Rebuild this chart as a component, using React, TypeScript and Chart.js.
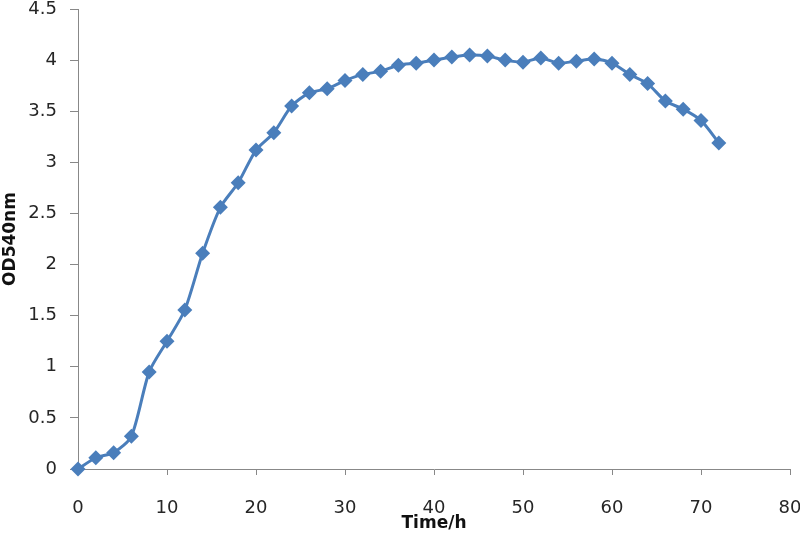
import React, { useEffect, useRef } from "react";
import { Chart, registerables } from "chart.js";

Chart.register(...registerables);

const timeHours = [0, 2, 4, 6, 8, 10, 12, 14, 16, 18, 20, 22, 24, 26, 28, 30, 32, 34, 36, 38, 40, 42, 44, 46, 48, 50, 52, 54, 56, 58, 60, 62, 64, 66, 68, 70, 72];
const od540 = [0, 0.11, 0.16, 0.32, 0.95, 1.25, 1.555, 2.11, 2.56, 2.8, 3.12, 3.29, 3.55, 3.68, 3.72, 3.8, 3.86, 3.89, 3.95, 3.97, 4.0, 4.03, 4.05, 4.04, 4.0, 3.98, 4.02, 3.97, 3.99, 4.01, 3.97, 3.86, 3.77, 3.6, 3.52, 3.41, 3.19];
const xTitle = "Time/h";
const yTitle = "OD540nm";

export default function App() {
  const ref = useRef<HTMLCanvasElement>(null);
  useEffect(() => {
    if (!ref.current) return;
    const data = timeHours.map((t, i) => ({ x: t, y: od540[i] }));
    const noPad = (s: any) => {
      s.paddingLeft = 0;
      s.paddingRight = 0;
      s.paddingTop = 0;
      s.paddingBottom = 0;
    };
    const chart = new Chart(ref.current, {
      type: "line",
      data: {
        datasets: [
          {
            data,
            borderColor: "#4A7EBB",
            backgroundColor: "#4A7EBB",
            borderWidth: 3,
            pointStyle: "rectRot",
            pointRadius: 7.5,
            pointHoverRadius: 7.5,
            pointBorderWidth: 0,
            tension: 0.25,
            fill: false,
            clip: false,
          } as any,
        ],
      },
      options: {
        animation: false,
        responsive: true,
        maintainAspectRatio: false,
        layout: { padding: { top: 9, right: 10, left: 0, bottom: 0 } },
        plugins: { legend: { display: false }, tooltip: { enabled: false } },
        scales: {
          x: {
            type: "linear",
            min: 0,
            max: 80,
            ticks: { stepSize: 10, color: "#262626", padding: 23, font: { family: "DejaVu Sans", size: 18 } },
            grid: { display: true, drawOnChartArea: false, drawTicks: true, tickLength: 6, color: "#888" },
            border: { display: true, color: "#888", width: 1 },
            title: { display: true, text: xTitle, color: "#111", font: { family: "DejaVu Sans", size: 17, weight: "bold" }, padding: { top: 0, bottom: 0 } },
            afterFit: (s: any) => { s.height = 65; noPad(s); },
          },
          y: {
            min: 0,
            max: 4.5,
            ticks: {
              stepSize: 0.5,
              color: "#262626",
              padding: 13,
              font: { family: "DejaVu Sans", size: 18 },
              callback: (v: any) => String(Math.round(Number(v) * 10) / 10),
            },
            grid: { display: true, drawOnChartArea: false, drawTicks: true, tickLength: 8, color: "#888" },
            border: { display: true, color: "#888", width: 1 },
            title: { display: true, text: yTitle, color: "#111", font: { family: "DejaVu Sans", size: 17, weight: "bold" }, padding: { top: 0, bottom: 0 } },
            afterFit: (s: any) => { s.width = 78; noPad(s); },
          },
        },
      },
    });
    return () => chart.destroy();
  }, []);
  return (
    <div style={{ position: "fixed", left: 0, top: 0, width: 800, height: 534, background: "#fff" }}>
      <canvas ref={ref} />
    </div>
  );
}
